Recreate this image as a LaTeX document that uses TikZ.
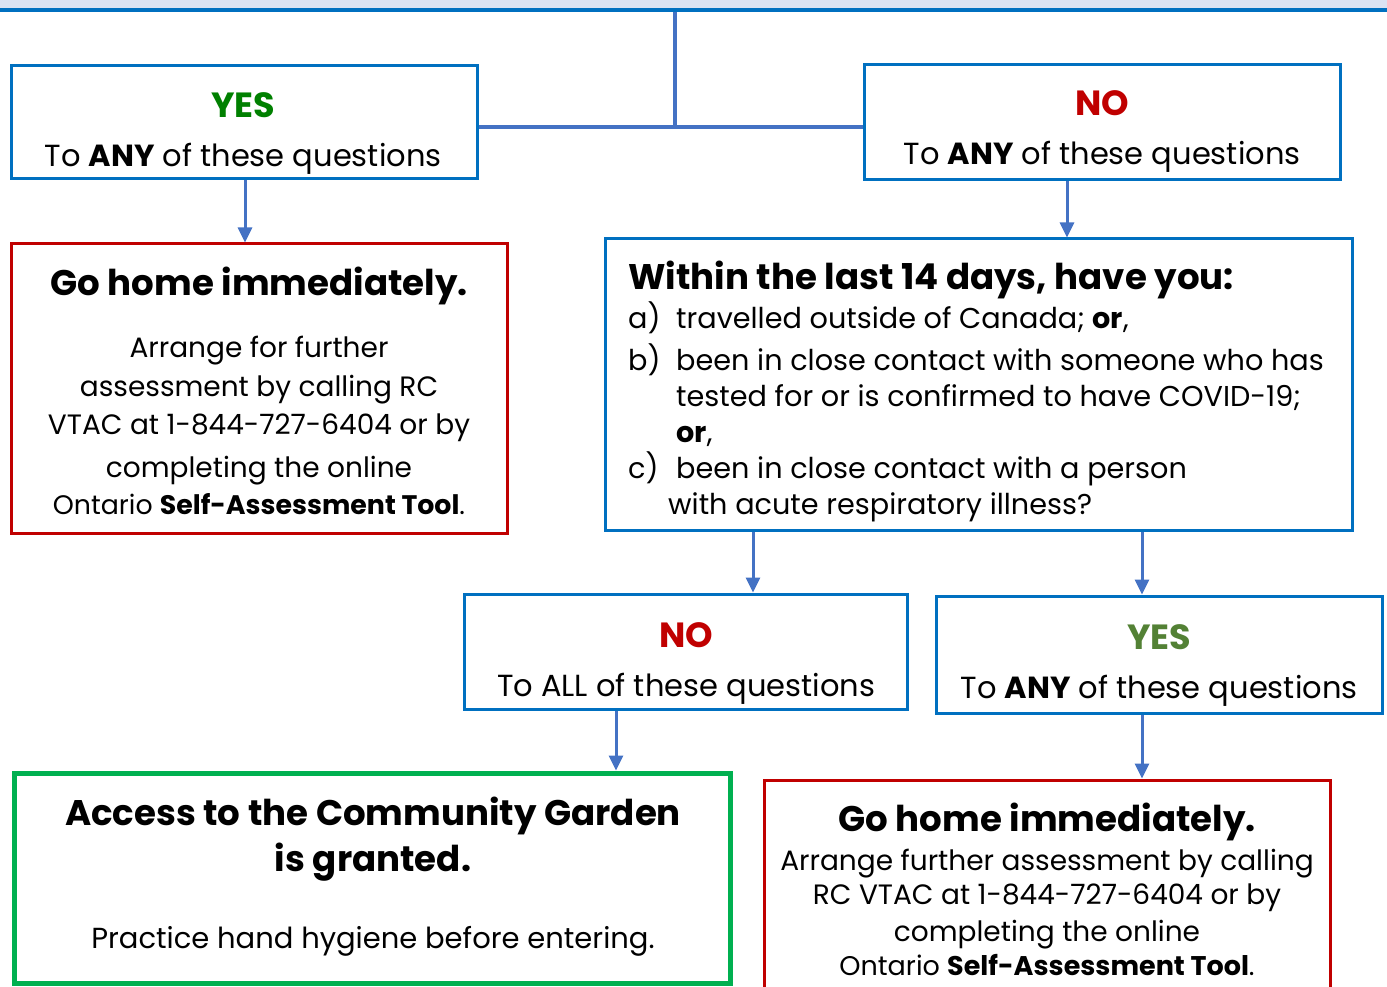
\documentclass[tikz,border=0pt]{standalone}
\usepackage{fontspec}
\setmainfont{Poppins}
\usetikzlibrary{arrows.meta}
\definecolor{boxblue}{HTML}{0070C0}
\definecolor{arrblue}{HTML}{4472C4}
\definecolor{bandblue}{HTML}{DAE3F3}
\definecolor{stopred}{HTML}{C00000}
\definecolor{yesgreen}{HTML}{008000}
\definecolor{olive}{HTML}{538135}
\definecolor{boxgreen}{HTML}{00B050}
\newcommand{\fsz}[1]{\fontsize{#1}{#1}\selectfont}
\begin{document}
\begin{tikzpicture}[x=1pt,y=-1pt,
  bbox/.style={draw=boxblue,line width=3pt,rectangle,inner sep=0pt},
  rbox/.style={draw=stopred,line width=3pt,rectangle,inner sep=0pt},
  gbox/.style={draw=boxgreen,line width=5pt,rectangle,inner sep=0pt},
  conn/.style={draw=arrblue,line width=4pt},
  arr/.style={draw=arrblue,line width=3pt,-{Triangle[width=14pt,length=15pt]}},
  txt/.style={inner sep=0pt,anchor=base,font=\fsz{28}},
  qtxt/.style={inner sep=0pt,anchor=base,font=\fsz{30.5}},
  ltxt/.style={inner sep=0pt,anchor=base west,font=\fsz{28.7}},
  head/.style={inner sep=0pt,anchor=base,font=\fsz{35.6}\bfseries},
  yn/.style={inner sep=0pt,anchor=base,font=\fsz{35}\bfseries}]
\useasboundingbox (0,0) rectangle (1387,987);
\fill[bandblue] (0,0) rectangle (1387,8);
\draw[boxblue,line width=3.5pt] (0,10) -- (1387,10);
% boxes
\node[bbox,minimum width=466pt,minimum height=113pt] (yesA) at (244,122.5) {};
\node[bbox,minimum width=476pt,minimum height=115pt] (noA) at (1102,122.5) {};
\node[rbox,minimum width=496pt,minimum height=289pt] (gohA) at (259,388.5) {};
\node[bbox,minimum width=747pt,minimum height=291pt] (within) at (978.5,384.5) {};
\node[bbox,minimum width=443pt,minimum height=115pt] (noB) at (685.5,651.5) {};
\node[bbox,minimum width=446pt,minimum height=117pt] (yesB) at (1159,654.5) {};
\node[gbox,minimum width=716pt,minimum height=210pt] (grant) at (372,878) {};
\node[rbox,minimum width=566pt,minimum height=230pt] (gohB) at (1047,895) {};
% connector coordinates
\coordinate (ctop) at (674.5,12);
\coordinate (cmid) at (0,127);
\coordinate (x0) at (245,0);
\coordinate (x1) at (1067,0);
\coordinate (x2) at (753,0);
\coordinate (x3) at (1142,0);
\coordinate (x4) at (616,0);
\draw[conn] (ctop) -- (ctop |- cmid);
\draw[conn] (yesA.east |- cmid) -- (noA.west |- cmid);
\draw[arr] (yesA.south -| x0) -- (gohA.north -| x0);
\draw[arr] (noA.south -| x1) -- (within.north -| x1);
\draw[arr] (within.south -| x2) -- (noB.north -| x2);
\draw[arr] (within.south -| x3) -- (yesB.north -| x3);
\draw[arr] (noB.south -| x4) -- (grant.north -| x4);
\draw[arr] (yesB.south -| x3) -- (gohB.north -| x3);
% texts: top boxes
\node[yn,text=yesgreen] (yesAt) at (243,118) {YES};
\node[qtxt] (yesAl) at (243,167) {To \textbf{ANY} of these questions};
\node[yn,text=stopred] (noAt) at (1102,116) {NO};
\node[qtxt] (noAl) at (1102,165) {To \textbf{ANY} of these questions};
% left go home
\node[head] (gohAh) at (259,295) {Go home immediately.};
\node[txt] (gohA1) at (259,357) {Arrange for further};
\node[txt] (gohA2) at (259,396) {assessment by calling RC};
\node[txt] (gohA3) at (259,434) {VTAC at 1-844-727-6404 or by};
\node[txt] (gohA4) at (259,477) {completing the online};
\node[txt,font=\fsz{26.8}] (gohA5) at (259,514) {Ontario \textbf{Self-Assessment Tool}.};
% within
\node[head,anchor=base west] (wh) at (628,289) {Within the last 14 days, have you:};
\node[ltxt] (wa) at (628,328) {a)};
\node[ltxt] (wat) at (676,328) {travelled outside of Canada; \textbf{or},};
\node[ltxt] (wb) at (628,370) {b)};
\node[ltxt] (wbt1) at (676,370) {been in close contact with someone who has};
\node[ltxt] (wbt2) at (676,406) {tested for or is confirmed to have COVID-19;};
\node[ltxt] (wbt3) at (676,442) {\textbf{or},};
\node[ltxt] (wc) at (628,478) {c)};
\node[ltxt] (wct1) at (676,478) {been in close contact with a person};
\node[ltxt] (wct2) at (668,514) {with acute respiratory illness?};
% middle
\node[yn,text=stopred] (noBt) at (686,647) {NO};
\node[qtxt] (noBl) at (686,696) {To ALL of these questions};
\node[yn,text=olive] (yesBt) at (1159,649) {YES};
\node[qtxt] (yesBl) at (1159,698) {To \textbf{ANY} of these questions};
% bottom
\node[head] (gr1) at (373,825) {Access to the Community Garden};
\node[head] (gr2) at (373,871) {is granted.};
\node[txt,font=\fsz{29}] (gr3) at (373,948) {Practice hand hygiene before entering.};
\node[head] (gohBh) at (1047,831) {Go home immediately.};
\node[txt] (gohB1) at (1047,870) {Arrange further assessment by calling};
\node[txt] (gohB2) at (1047,904) {RC VTAC at 1-844-727-6404 or by};
\node[txt] (gohB3) at (1047,941) {completing the online};
\node[txt,font=\fsz{27}] (gohB4) at (1047,975) {Ontario \textbf{Self-Assessment Tool}.};
\end{tikzpicture}
\end{document}
